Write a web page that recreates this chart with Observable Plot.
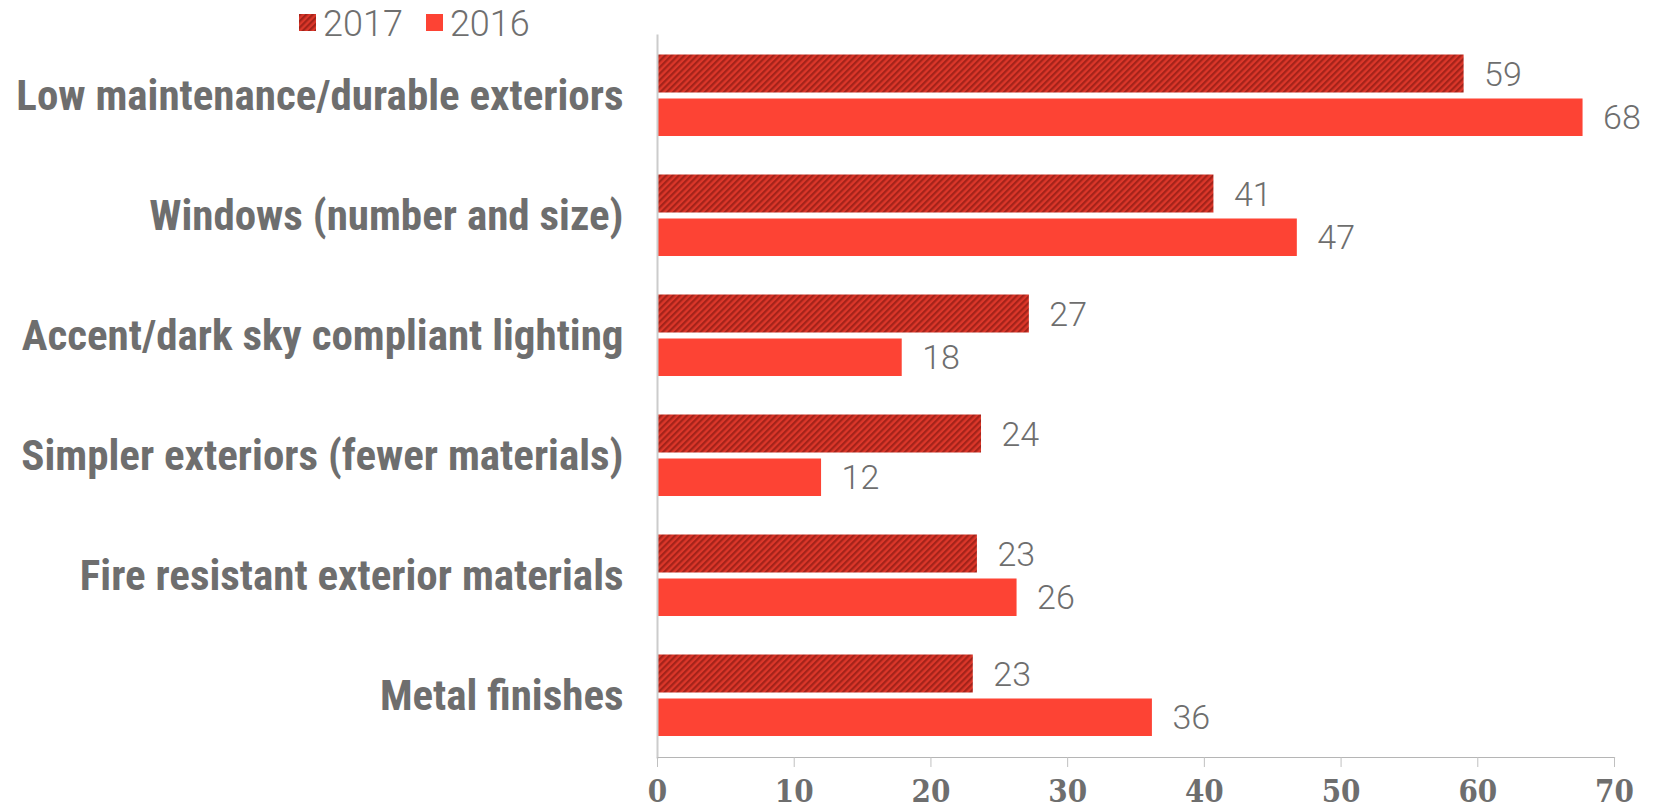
<!DOCTYPE html>
<html>
<head>
<meta charset="utf-8">
<script src="https://cdn.jsdelivr.net/npm/d3@7"></script>
<script src="https://cdn.jsdelivr.net/npm/@observablehq/plot@0.6"></script>
<style>
  html, body { margin: 0; padding: 0; background: #fff; }
  #wrap { position: relative; width: 1655px; height: 810px; }
  #legend { position: absolute; left: 299px; top: 0px; height: 48px; display: flex; align-items: center;
            font-family: Roboto, sans-serif; font-weight: 300; font-size: 36px; color: #6f6f6f; }
  #legend .item { display: flex; align-items: center; margin-right: 23px; }
  #legend .sw { width: 17px; height: 17px; margin-right: 7px; margin-top: -4px; }
</style>
</head>
<body>
<div id="wrap">
  <div id="chart"></div>
  <div id="legend"></div>
</div>
<script>
const categories = [
  "Low maintenance/durable exteriors",
  "Windows (number and size)",
  "Accent/dark sky compliant lighting",
  "Simpler exteriors (fewer materials)",
  "Fire resistant exterior materials",
  "Metal finishes"
];
const values2017 = [59.0, 40.7, 27.2, 23.7, 23.4, 23.1];
const values2016 = [67.7, 46.8, 17.9, 12.0, 26.3, 36.2];
const seriesNames = ["2017", "2016"];
const xTicks = [0, 10, 20, 30, 40, 50, 60, 70];

const rows2017 = categories.map((c, i) => ({category: c, value: values2017[i]}));
const rows2016 = categories.map((c, i) => ({category: c, value: values2016[i]}));

const gray = "#6e6e6e";
const fill2016 = "#fd4334";
const fill2017 = "url(#stripes2017)";
const label = d => String(Math.round(d.value));

const chart = Plot.plot({
  width: 1655,
  height: 810,
  marginLeft: 657,
  marginRight: 41,
  marginTop: 35,
  marginBottom: 53,
  style: {background: "transparent"},
  x: {domain: [0, 70]},
  y: {domain: categories, padding: 0},
  marks: [
    Plot.barX(rows2017, {y: "category", x: "value", fill: fill2017, insetTop: 18.5, insetBottom: 63.5}),
    Plot.barX(rows2016, {y: "category", x: "value", fill: fill2016, insetTop: 62.5, insetBottom: 20}),
    Plot.text(rows2017, {y: "category", x: "value", text: label, dx: 20, dy: -21, textAnchor: "start",
      fontSize: 34, fontFamily: "Roboto, sans-serif", fontWeight: 300, fill: gray}),
    Plot.text(rows2016, {y: "category", x: "value", text: label, dx: 20, dy: 22, textAnchor: "start",
      fontSize: 34, fontFamily: "Roboto, sans-serif", fontWeight: 300, fill: gray}),
    Plot.frame({anchor: "left", stroke: "#cccccc", strokeWidth: 2}),
    Plot.frame({anchor: "bottom", stroke: "#b5b5b5", strokeWidth: 1.2}),
    Plot.axisX({ticks: xTicks, tickSize: 10, tickPadding: 12, label: null, stroke: "#c0c0c0",
      fill: gray, color: gray, fontSize: 31, fontWeight: "bold",
      fontFamily: "'DejaVu Serif Condensed', 'DejaVu Serif', serif", tickFormat: d => String(d)}),
    Plot.axisY({tickSize: 0, tickPadding: 34, label: null, fill: gray, color: gray, fontSize: 43,
      fontWeight: "bold", fontFamily: "'Liberation Sans Narrow', 'Roboto Condensed', 'DejaVu Sans Condensed', sans-serif"})
  ]
});

// pattern definition for the 2017 series
const svgNS = "http://www.w3.org/2000/svg";
function addPattern(svg) {
  const defs = document.createElementNS(svgNS, "defs");
  defs.innerHTML = `<pattern id="stripes2017" patternUnits="userSpaceOnUse" width="4.5" height="4.5" patternTransform="rotate(45)">
      <rect width="4.5" height="4.5" fill="#dc372a"></rect>
      <rect width="2.2" height="4.5" fill="#a3231a"></rect>
    </pattern>`;
  svg.insertBefore(defs, svg.firstChild);
}
addPattern(chart);
document.getElementById("chart").appendChild(chart);

// legend
const legend = document.getElementById("legend");
const colors = {"2017": fill2017, "2016": fill2016};
for (const name of seriesNames) {
  const item = document.createElement("div");
  item.className = "item";
  const sw = document.createElementNS(svgNS, "svg");
  sw.setAttribute("class", "sw");
  sw.setAttribute("width", 17); sw.setAttribute("height", 17);
  const r = document.createElementNS(svgNS, "rect");
  r.setAttribute("width", 17); r.setAttribute("height", 17);
  r.setAttribute("fill", colors[name]);
  sw.appendChild(r);
  item.appendChild(sw);
  const t = document.createElement("span");
  t.textContent = name;
  item.appendChild(t);
  legend.appendChild(item);
}
</script>
</body>
</html>
